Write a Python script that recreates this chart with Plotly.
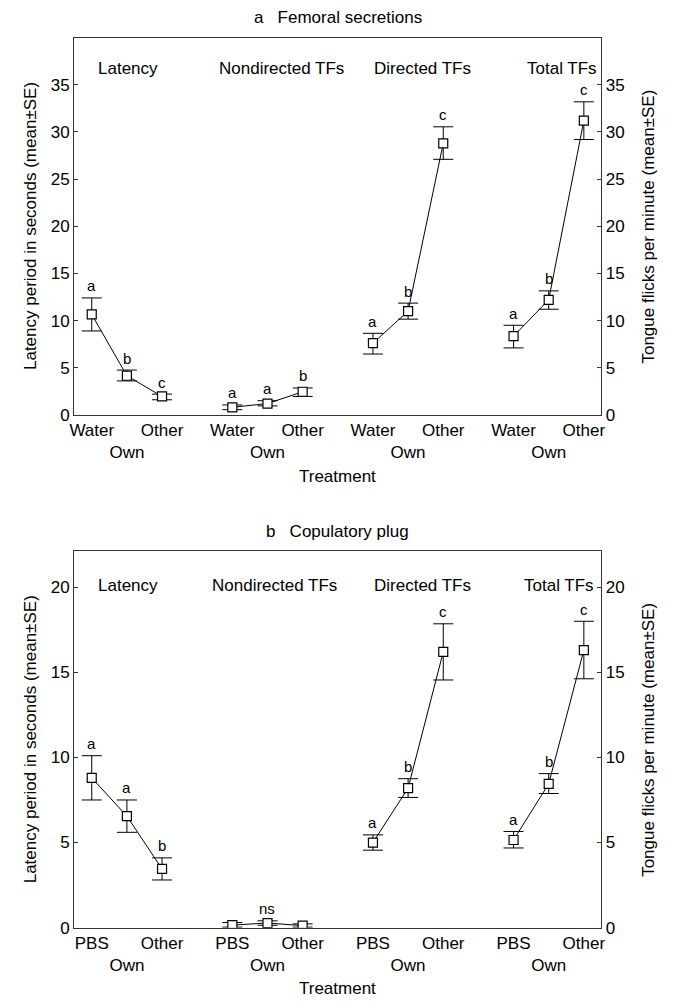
import plotly.graph_objects as go

# ---------------- data ----------------
x_pos = [0, 1, 2, 4, 5, 6, 8, 9, 10, 12, 13, 14]
groups = ["Latency", "Nondirected TFs", "Directed TFs", "Total TFs"]

a_treat = ["Water", "Own", "Other"]
a_mean = [10.65, 4.15, 1.95, 0.8, 1.2, 2.45, 7.6, 11.0, 28.8, 8.35, 12.2, 31.2]
a_upper = [12.4, 4.75, 2.2, 1.05, 1.5, 2.85, 8.65, 11.85, 30.55, 9.5, 13.15, 33.2]
a_lower = [8.9, 3.6, 1.6, 0.55, 0.95, 1.95, 6.45, 10.15, 27.1, 7.1, 11.2, 29.2]
a_letters = ["a", "b", "c", "a", "a", "b", "a", "b", "c", "a", "b", "c"]

b_treat = ["PBS", "Own", "Other"]
b_mean = [8.8, 6.55, 3.45, 0.15, 0.27, 0.12, 5.0, 8.2, 16.2, 5.15, 8.45, 16.3]
b_upper = [10.1, 7.5, 4.1, 0.3, 0.4, 0.22, 5.45, 8.75, 17.85, 5.65, 9.05, 18.0]
b_lower = [7.5, 5.6, 2.8, 0.03, 0.14, 0.03, 4.55, 7.65, 14.55, 4.68, 7.88, 14.62]
b_letters = ["a", "a", "b", "", "ns", "", "a", "b", "c", "a", "b", "c"]

a_title = "a\u00a0\u00a0\u00a0Femoral secretions"
b_title = "b\u00a0\u00a0\u00a0Copulatory plug"
left_title = "Latency period in seconds (mean±SE)"
right_title = "Tongue flicks per minute (mean±SE)"
x_title = "Treatment"

a_ticks = [0, 5, 10, 15, 20, 25, 30, 35]
b_ticks = [0, 5, 10, 15, 20]
a_group_x = [1.04, 5.39, 9.41, 13.39]
b_group_x = [1.04, 5.21, 9.4, 13.3]

# ---------------- style ----------------
FONT = "Liberation Sans, Arial, Helvetica, sans-serif"
OFF = 8                      # default body margin of the html page
W, H = 673 - OFF, 1008 - 2 * OFF
XL, XR = 70, 604.5           # reference-pixel coordinates
A_TOP, A_BOT = 38, 419
B_TOP, B_BOT = 557, 937


def px(x):
    return (x - OFF) / W


def py(y):
    return 1 - (y - OFF) / H


fig = go.Figure()

panels = [
    dict(mean=a_mean, up=a_upper, lo=a_lower, xa="x", yl="y", yr="y2"),
    dict(mean=b_mean, up=b_upper, lo=b_lower, xa="x2", yl="y3", yr="y4"),
]

for p in panels:
    for g in range(4):
        sl = slice(3 * g, 3 * g + 3)
        xs = x_pos[sl]
        ys = p["mean"][sl]
        ups = [u - m for u, m in zip(p["up"][sl], ys)]
        los = [m - l for m, l in zip(ys, p["lo"][sl])]
        fig.add_trace(go.Scatter(
            x=xs, y=ys, mode="lines+markers",
            xaxis=p["xa"], yaxis=p["yl"] if g == 0 else p["yr"],
            line=dict(color="black", width=1),
            marker=dict(symbol="square", size=9, color="white",
                        line=dict(color="black", width=1.2)),
            error_y=dict(type="data", symmetric=False, array=ups, arrayminus=los,
                         color="black", thickness=1, width=10),
            showlegend=False, hoverinfo="skip",
        ))


def ticktext(treat):
    out = []
    for _ in range(4):
        out += [treat[0], "<br>" + treat[1], treat[2]]
    return out


xcommon = dict(range=[-0.5, 14.5], domain=[px(XL), px(XR)], showgrid=False,
               zeroline=False, showline=True, mirror=True, linecolor="#333",
               linewidth=1, ticks="", tickvals=x_pos, tickangle=0,
               tickfont=dict(family=FONT, size=17, color="black"))
ycommon = dict(showgrid=False, zeroline=False, showline=True, linecolor="#333",
               linewidth=1, ticks="inside", ticklen=4, tickcolor="#333",
               tickfont=dict(family=FONT, size=17, color="black"))

fig.update_layout(
    width=W, height=H,
    margin=dict(l=0, r=0, t=0, b=0),
    paper_bgcolor="white", plot_bgcolor="white",
    font=dict(family=FONT, color="black"),
    xaxis=dict(**xcommon, anchor="y", ticktext=ticktext(a_treat)),
    yaxis=dict(**ycommon, anchor="x", range=[0, 40],
               domain=[py(A_BOT), py(A_TOP)], tickvals=a_ticks),
    yaxis2=dict(**ycommon, anchor="x", overlaying="y", side="right",
                range=[0, 40], tickvals=a_ticks),
    xaxis2=dict(**xcommon, anchor="y3", ticktext=ticktext(b_treat)),
    yaxis3=dict(**ycommon, anchor="x2", range=[0, 22.1],
                domain=[py(B_BOT), py(B_TOP)], tickvals=b_ticks),
    yaxis4=dict(**ycommon, anchor="x2", overlaying="y3", side="right",
                range=[0, 22.1], tickvals=b_ticks),
)

ann = []
tf = dict(family=FONT, size=17, color="black")
# panel titles, x titles
for txt, y in [(a_title, 18), (b_title, 537), (x_title, 481), (x_title, 998)]:
    ann.append(dict(text=txt, x=px((XL + XR) / 2), y=py(y), xref="paper",
                    yref="paper", showarrow=False, font=tf,
                    xanchor="center", yanchor="middle"))
# y titles
for top, bot in [(A_TOP, A_BOT), (B_TOP, B_BOT)]:
    cy = py((top + bot) / 2)
    ann.append(dict(text=left_title, x=px(26), y=cy, xref="paper", yref="paper",
                    textangle=-90, showarrow=False, font=tf,
                    xanchor="center", yanchor="middle"))
    ann.append(dict(text=right_title, x=px(652), y=cy, xref="paper", yref="paper",
                    textangle=-90, showarrow=False, font=tf,
                    xanchor="center", yanchor="middle"))
# group labels
for gx, yv, xref, yref in [(a_group_x, 36.7, "x", "y"), (b_group_x, 20.1, "x2", "y3")]:
    for g, name in enumerate(groups):
        ann.append(dict(text=name, x=gx[g], y=yv, xref=xref,
                        yref=yref, showarrow=False, font=tf,
                        xanchor="center", yanchor="middle"))
# significance letters
for letters, ups, xref, yref in [(a_letters, a_upper, "x", "y"),
                                 (b_letters, b_upper, "x2", "y3")]:
    for i, t in enumerate(letters):
        if not t:
            continue
        ann.append(dict(text=t, x=x_pos[i], y=ups[i], xref=xref, yref=yref,
                        yshift=12, showarrow=False,
                        font=dict(family=FONT, size=15, color="black"),
                        xanchor="center", yanchor="middle"))

fig.update_layout(annotations=ann)
fig.write_html("out.html")
